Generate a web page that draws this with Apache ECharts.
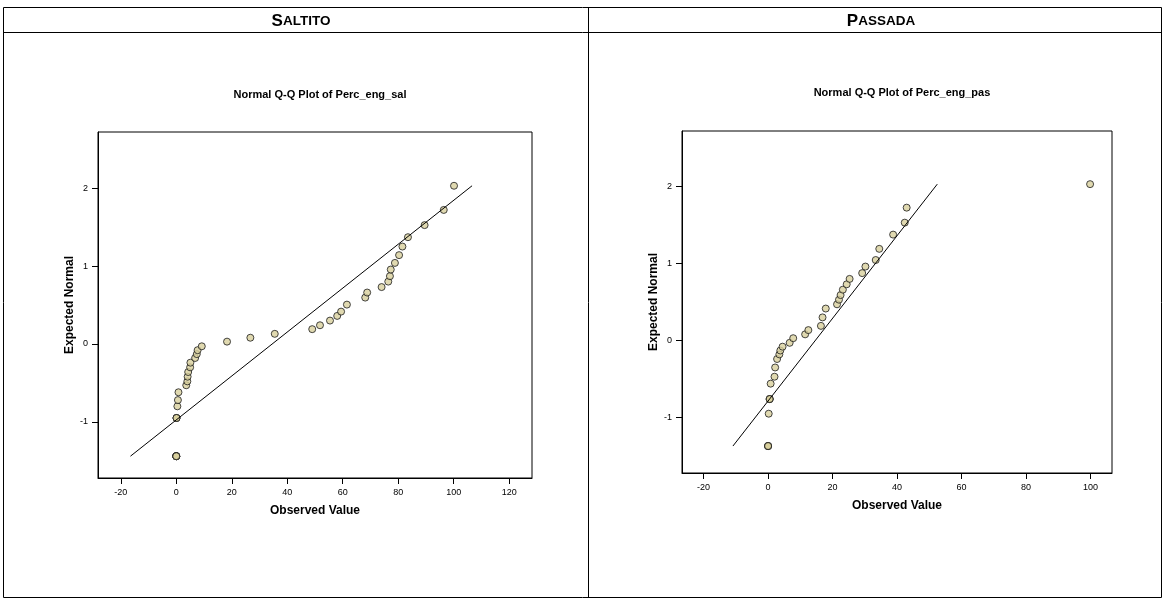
<!DOCTYPE html>
<html>
<head>
<meta charset="utf-8">
<title>Normal Q-Q Plots</title>
<script src="https://cdn.jsdelivr.net/npm/echarts@6/dist/echarts.min.js"></script>
<style>
html, body { margin: 0; padding: 0; background: #fff; }
#main { width: 1165px; height: 600px; }
</style>
</head>
<body>
<div id="main"></div>
<script>
// Saltito: observed value / expected normal
var salObs = [0, 0, 0, 0, 0, 0, 0.1, 0.1, 0.1, 0.4, 0.6, 0.8, 3.6, 4.0, 4.1, 4.3, 5.0, 5.1, 6.8, 7.4, 7.7, 9.2,
              18.3, 26.7, 35.5, 49.0, 51.8, 55.4, 58.0, 59.4, 61.5, 68.1, 68.8, 74.0, 76.4, 77.0, 77.3, 78.8,
              80.3, 81.5, 83.5, 89.5, 96.4, 100.1];
var salExp = [-1.44, -1.44, -1.44, -1.44, -1.44, -1.44, -0.95, -0.95, -0.95, -0.80, -0.72, -0.62, -0.53, -0.48,
              -0.42, -0.36, -0.30, -0.24, -0.18, -0.13, -0.08, -0.03, 0.03, 0.08, 0.13, 0.19, 0.24, 0.30, 0.36,
              0.415, 0.505, 0.595, 0.66, 0.73, 0.80, 0.87, 0.955, 1.04, 1.14, 1.25, 1.37, 1.525, 1.72, 2.03];
var salLineEnds = [[-16.5, -1.44], [106.6, 2.03]];

// Passada
var pasObs = [0, 0, 0, 0, 0.2, 0.5, 0.5, 0.5, 0.8, 2.0, 2.2, 2.8, 3.5, 3.8, 4.5, 6.7,
              7.8, 11.5, 12.5, 16.4, 16.9, 17.9, 21.4, 22.0, 22.5, 23.2, 24.4, 25.3, 29.2, 30.2, 33.4,
              34.5, 38.8, 42.4, 43.0, 99.9];
var pasExp = [-1.37, -1.37, -1.37, -1.37, -0.95, -0.76, -0.76, -0.76, -0.56, -0.47, -0.35, -0.24, -0.18, -0.13, -0.08, -0.03,
              0.03, 0.08, 0.135, 0.19, 0.30, 0.415, 0.47, 0.53, 0.59, 0.66, 0.73, 0.80, 0.875, 0.96, 1.045,
              1.19, 1.375, 1.53, 1.725, 2.03];
var pasLineEnds = [[-10.9, -1.37], [52.5, 2.03]];

var xTicksSal = [-20, 0, 20, 40, 60, 80, 100, 120];
var xTicksPas = [-20, 0, 20, 40, 60, 80, 100];
var yTicks = [-1, 0, 1, 2];

var FONT = "'Liberation Sans', Arial, sans-serif";

function pairs(xs, ys) {
	var out = [];
	for (var i = 0; i < xs.length; i++) {
		out.push([xs[i], ys[i]]);
	}
	return out;
}

function xAxisOf(idx, min, max, ticks) {
	return {
		gridIndex: idx,
		type: 'value',
		min: min,
		max: max,
		splitLine: { show: false },
		axisLine: { onZero: false, lineStyle: { color: '#000', width: 1 } },
		axisTick: { customValues: ticks, length: 6, lineStyle: { color: '#000' } },
		axisLabel: { customValues: ticks, fontSize: 9, color: '#000', margin: 10, fontFamily: FONT },
		name: 'Observed Value',
		nameLocation: 'middle',
		nameGap: 27,
		nameTextStyle: { fontWeight: 'bold', fontSize: 12, color: '#000', fontFamily: FONT }
	};
}

function yAxisOf(idx) {
	return {
		gridIndex: idx,
		type: 'value',
		min: -1.72,
		max: 2.72,
		splitLine: { show: false },
		axisLine: { onZero: false, lineStyle: { color: '#000', width: 1 } },
		axisTick: { customValues: yTicks, length: 6, lineStyle: { color: '#000' } },
		axisLabel: { customValues: yTicks, fontSize: 9, color: '#000', margin: 10, fontFamily: FONT },
		name: 'Expected Normal',
		nameLocation: 'middle',
		nameGap: 22,
		nameTextStyle: { fontWeight: 'bold', fontSize: 12, color: '#000', fontFamily: FONT }
	};
}

function pointSeries(idx, data) {
	return {
		type: 'scatter',
		xAxisIndex: idx,
		yAxisIndex: idx,
		data: data,
		symbol: 'circle',
		symbolSize: 7,
		itemStyle: { color: '#d8cf9c', borderColor: '#1a1a1a', borderWidth: 1 },
		z: 2
	};
}

function lineSeries(idx, data) {
	return {
		type: 'line',
		xAxisIndex: idx,
		yAxisIndex: idx,
		data: data,
		showSymbol: false,
		lineStyle: { color: '#000', width: 1 },
		z: 3
	};
}

function buildChart() {
	var myChart = echarts.init(document.getElementById('main'));

	// 表头：小型大写字母
	var headStyle = {
		rich: {
			big: { fontSize: 17, fontWeight: 'bold', fontFamily: FONT, color: '#000' },
			small: { fontSize: 13.5, fontWeight: 'bold', fontFamily: FONT, color: '#000' }
		}
	};
	var plotTitle = { fontSize: 11, fontWeight: 'bold', fontFamily: FONT, color: '#000' };

	var option = {
		animation: false,
		backgroundColor: '#fff',
		title: [
			{ text: '{big|S}{small|ALTITO}', left: 296, top: 8, textAlign: 'center', textStyle: headStyle },
			{ text: '{big|P}{small|ASSADA}', left: 876, top: 8, textAlign: 'center', textStyle: headStyle },
			{ text: 'Normal Q-Q Plot of Perc_eng_sal', left: 315, top: 84, textAlign: 'center', textStyle: plotTitle },
			{ text: 'Normal Q-Q Plot of Perc_eng_pas', left: 897, top: 82, textAlign: 'center', textStyle: plotTitle }
		],
		grid: [
			{ left: 98, top: 132, width: 434, height: 346, show: true, borderColor: '#000', borderWidth: 1 },
			{ left: 682, top: 131, width: 430, height: 342, show: true, borderColor: '#000', borderWidth: 1 }
		],
		xAxis: [
			xAxisOf(0, -28.2, 128.2, xTicksSal),
			xAxisOf(1, -26.7, 106.7, xTicksPas)
		],
		yAxis: [yAxisOf(0), yAxisOf(1)],
		series: [
			pointSeries(0, pairs(salObs, salExp)),
			lineSeries(0, salLineEnds),
			pointSeries(1, pairs(pasObs, pasExp)),
			lineSeries(1, pasLineEnds)
		],
		// 表格边框
		graphic: [
			{ type: 'rect', shape: { x: 3.5, y: 7.5, width: 1158, height: 590 }, style: { fill: null, stroke: '#000', lineWidth: 1 } },
			{ type: 'line', shape: { x1: 3.5, y1: 32.5, x2: 1161.5, y2: 32.5 }, style: { stroke: '#000', lineWidth: 1 } },
			{ type: 'line', shape: { x1: 588.5, y1: 7.5, x2: 588.5, y2: 597.5 }, style: { stroke: '#000', lineWidth: 1 } }
		]
	};

	myChart.setOption(option);
}

buildChart();
</script>
</body>
</html>
